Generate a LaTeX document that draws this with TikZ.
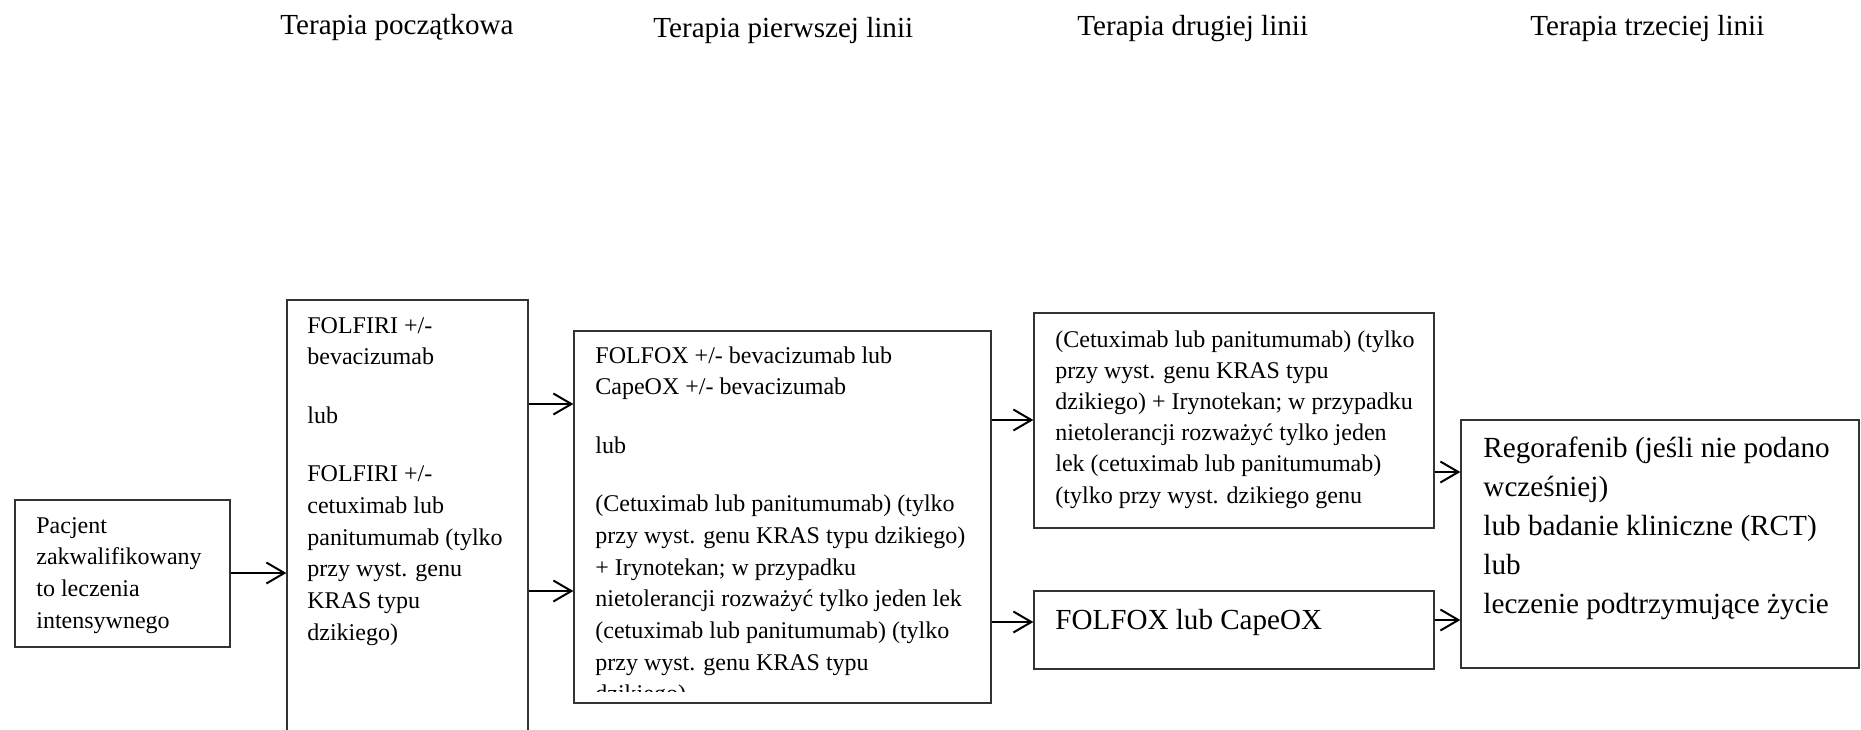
\documentclass[tikz,border=0pt]{standalone}
\usepackage{fontspec}
\setmainfont{Liberation Serif}
\usetikzlibrary{arrows.meta,fit}
\begin{document}
\begin{tikzpicture}[x=0.5pt,y=-0.5pt,
  box/.style={draw=black!80, line width=0.65pt, inner sep=0pt},
  txt/.style={anchor=base west, inner sep=0pt},
  head/.style={anchor=base west, inner sep=0pt, font=\fontsize{14.55}{17}\selectfont},
  arr/.style={line width=1pt, -{Straight Barb[length=9pt,width=10.5pt,line width=1pt]}}]
\clip (0,0) rectangle (1861,729);
% headers
\node[head] (h1) at (280,34) {Terapia początkowa};
\node[head] (h2) at (653,37) {Terapia pierwszej linii};
\node[head] (h3) at (1077,35) {Terapia drugiej linii};
\node[head] (h4) at (1530,35) {Terapia trzeciej linii};
% boxes
\node[box, fit={(15,500) (230,647)}] (A) {};
\node[box, fit={(287,300) (528,780)}] (B) {};
\node[box, fit={(574,331) (991,703)}] (C) {};
\node[box, fit={(1034,313) (1434,528)}] (D1) {};
\node[box, fit={(1034,591) (1434,669)}] (D2) {};
\node[box, fit={(1461,420) (1859,668)}] (E) {};
% texts
\node[txt] (At) at (36,533) {\parbox[t]{105pt}{\raggedright\fontsize{12}{15.85}\selectfont
Pacjent\\ zakwalifikowany\\ to leczenia\\ intensywnego}};
\node[txt] (Bt) at (307,333) {\parbox[t]{115pt}{\raggedright\fontsize{12}{15.85}\selectfont
FOLFIRI +/-\\ bevacizumab\\[13.4pt] lub\\[13.4pt] FOLFIRI +/-\\ cetuximab lub\\ panitumumab (tylko\\ przy wyst. genu\\ KRAS typu\\ dzikiego)}};
\begin{scope}
\clip (574,331) rectangle (991,691);
\node[txt] (Ct) at (595,363) {\parbox[t]{205pt}{\raggedright\fontsize{12}{15.85}\selectfont
FOLFOX +/- bevacizumab lub\\ CapeOX +/- bevacizumab\\[13.4pt] lub\\[13.4pt] (Cetuximab lub panitumumab) (tylko\\ przy wyst. genu KRAS typu dzikiego)\\ + Irynotekan;  w przypadku\\ nietolerancji rozważyć tylko jeden lek\\ (cetuximab lub panitumumab) (tylko\\ przy wyst. genu KRAS typu\\ dzikiego)}};
\end{scope}
\node[txt] (D1t) at (1055,347) {\parbox[t]{195pt}{\raggedright\fontsize{12}{15.6}\selectfont
(Cetuximab lub panitumumab) (tylko\\ przy wyst. genu KRAS typu\\ dzikiego) + Irynotekan; w przypadku\\ nietolerancji rozważyć tylko jeden\\ lek (cetuximab lub panitumumab)\\ (tylko przy wyst. dzikiego genu}};
\node[txt] (D2t) at (1055,629) {\fontsize{14.55}{17}\selectfont FOLFOX lub CapeOX};
\node[txt] (Et) at (1483,457) {\parbox[t]{195pt}{\raggedright\fontsize{14.6}{19.5}\selectfont
Regorafenib (jeśli nie podano\\ wcześniej)\\ lub badanie kliniczne (RCT)\\ lub\\ leczenie podtrzymujące życie}};
% connectors
\draw[arr] (A.east |- 0,573) -- (B.west |- 0,573);
\draw[arr] (B.east |- 0,404) -- (C.west |- 0,404);
\draw[arr] (B.east |- 0,591) -- (C.west |- 0,591);
\draw[arr] (C.east |- 0,420) -- (D1.west |- 0,420);
\draw[arr] (C.east |- 0,622) -- (D2.west |- 0,622);
\draw[arr] (D1.east |- 0,472) -- (E.west |- 0,472);
\draw[arr] (D2.east |- 0,620) -- (E.west |- 0,620);
\end{tikzpicture}
\end{document}
